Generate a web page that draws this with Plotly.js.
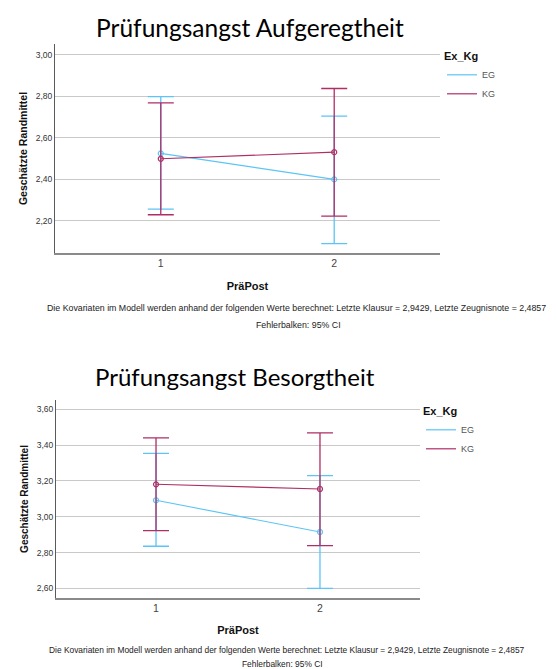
<!DOCTYPE html>
<html>
<head>
<meta charset="utf-8">
<script src="https://cdn.plot.ly/plotly-3.0.1.min.js"></script>
<style>html,body{margin:0;padding:0;background:#fff;}#chart{width:558px;height:669px;}</style>
</head>
<body>
<div id="chart"></div>
<script>
// ---- data ----
var prePost = [1, 2];
var prePostLabels = ['1', '2'];
var groups = ['EG', 'KG'];

// Chart 1: Prüfungsangst Aufgeregtheit
var egMean1 = [2.525, 2.400];
var egLow1  = [2.257, 2.091];
var egHigh1 = [2.798, 2.704];
var kgMean1 = [2.499, 2.531];
var kgLow1  = [2.230, 2.223];
var kgHigh1 = [2.768, 2.837];

// Chart 2: Prüfungsangst Besorgtheit
var egMean2 = [3.092, 2.915];
var egLow2  = [2.835, 2.600];
var egHigh2 = [3.354, 3.230];
var kgMean2 = [3.181, 3.155];
var kgLow2  = [2.922, 2.839];
var kgHigh2 = [3.440, 3.468];

var yTicks1 = [2.2, 2.4, 2.6, 2.8, 3.0];
var yTicks2 = [2.6, 2.8, 3.0, 3.2, 3.4, 3.6];

var title1 = 'Prüfungsangst Aufgeregtheit';
var title2 = 'Prüfungsangst Besorgtheit';
var xTitle = 'PräPost';
var yTitle = 'Geschätzte Randmittel';
var legendTitle = 'Ex_Kg';
var note = 'Die Kovariaten im Modell werden anhand der folgenden Werte berechnet: Letzte Klausur = 2,9429, Letzte Zeugnisnote = 2,4857';
var errNote = 'Fehlerbalken: 95% CI';

// ---- styling ----
var W = 558, H = 669;
var EG_COLOR = 'rgb(92,196,246)';
var KG_COLOR = 'rgb(174,46,102)';
var FONT = '"Liberation Sans", Arial, sans-serif';
var TITLE_FONT = 'Lato, "Noto Sans", sans-serif';

function diff(a, b) { return a.map(function (v, i) { return v - b[i]; }); }

function series(name, mean, low, high, color, xa, ya) {
  return {
    type: 'scatter', mode: 'lines+markers', name: name,
    x: prePost, y: mean, xaxis: xa, yaxis: ya, showlegend: false,
    line: {color: color, width: 1.1},
    marker: {symbol: 'circle-open', size: 5, color: color, line: {width: 1.2, color: color}},
    error_y: {type: 'data', symmetric: false, array: diff(high, mean), arrayminus: diff(mean, low),
              color: color, thickness: 1.3, width: 13}
  };
}
function legendEntry(name, color, xa, ya, leg) {
  return {type: 'scatter', mode: 'lines', name: name, x: [null], y: [null],
          xaxis: xa, yaxis: ya, legend: leg, showlegend: true,
          line: {color: color, width: 1.2}};
}

var traces = [
  series(groups[0], egMean1, egLow1, egHigh1, EG_COLOR, 'x', 'y'),
  series(groups[1], kgMean1, kgLow1, kgHigh1, KG_COLOR, 'x', 'y'),
  series(groups[0], egMean2, egLow2, egHigh2, EG_COLOR, 'x2', 'y2'),
  series(groups[1], kgMean2, kgLow2, kgHigh2, KG_COLOR, 'x2', 'y2'),
  legendEntry(groups[0], EG_COLOR, 'x', 'y', 'legend'),
  legendEntry(groups[1], KG_COLOR, 'x', 'y', 'legend'),
  legendEntry(groups[0], EG_COLOR, 'x2', 'y2', 'legend2'),
  legendEntry(groups[1], KG_COLOR, 'x2', 'y2', 'legend2')
];

function px(x) { return x / W; }
function py(y) { return 1 - y / H; }

function xAxis(domain, anchor, standoff) {
  return {
    domain: domain, anchor: anchor, range: [0.39, 2.61],
    tickvals: prePost, ticktext: prePostLabels,
    showgrid: false, zeroline: false, showline: true, linecolor: '#8a8a8a', linewidth: 1.6,
    ticks: '', tickfont: {family: FONT, size: 10.5, color: '#444'},
    title: {text: '<b>' + xTitle + '</b>', font: {family: FONT, size: 11, color: '#111'}, standoff: standoff},
    fixedrange: true
  };
}
function yAxis(domain, anchor, range, ticks, size) {
  return {
    domain: domain, anchor: anchor, range: range, tickvals: ticks, tickformat: '.2f',
    showgrid: true, gridcolor: '#c9c9c9', gridwidth: 1, zeroline: false,
    showline: true, linecolor: '#5a5a5a', linewidth: 1,
    ticks: '', tickfont: {family: FONT, size: 8.5, color: '#333'},
    title: {text: '<b>' + yTitle + '</b>', font: {family: FONT, size: size, color: '#111'}, standoff: 6},
    fixedrange: true
  };
}

function legend(x, y) {
  return {
    x: px(x), y: py(y), xanchor: 'left', yanchor: 'top',
    bgcolor: 'rgba(0,0,0,0)', borderwidth: 0, itemwidth: 30,
    tracegroupgap: 0,
    title: {text: '<b>' + legendTitle + '</b>', font: {family: FONT, size: 11, color: '#111'}},
    font: {family: FONT, size: 9, color: '#555'}
  };
}

function ann(text, x, y, size, family, color) {
  return {text: text, xref: 'paper', yref: 'paper', x: px(x), y: py(y),
          xanchor: 'center', yanchor: 'middle', showarrow: false,
          font: {family: family, size: size, color: color}};
}

var layout = {
  width: W, height: H,
  margin: {l: 0, r: 0, t: 0, b: 0},
  paper_bgcolor: '#fff', plot_bgcolor: '#fff',
  separators: ',.',
  showlegend: true,
  xaxis: xAxis([px(55), px(440)], 'y', 14),
  yaxis: yAxis([py(253), py(44)], 'x', [2.046, 3.051], yTicks1, 10.5),
  xaxis2: xAxis([px(56), px(420)], 'y2', 13),
  yaxis2: yAxis([py(598), py(400)], 'x2', [2.546, 3.652], yTicks2, 10),
  legend: legend(442, 46),
  legend2: legend(421, 401),
  annotations: [
    ann(title1, 250, 27, 24.5, TITLE_FONT, '#000'),
    ann(title2, 235, 376, 24, TITLE_FONT, '#000'),
    ann(note, 296, 308, 8.8, FONT, '#222'),
    ann(errNote, 298, 325, 8.8, FONT, '#222'),
    ann(note, 287, 650, 8.4, FONT, '#222'),
    ann(errNote, 282, 664, 8.4, FONT, '#222')
  ]
};

Plotly.newPlot('chart', traces, layout, {displayModeBar: false, staticPlot: true});
</script>
</body>
</html>
